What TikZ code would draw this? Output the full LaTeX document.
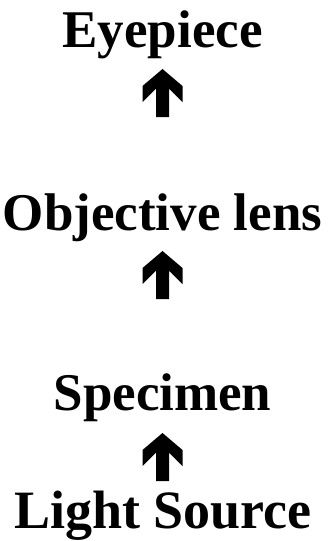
\documentclass[tikz,border=0pt]{standalone}
\usepackage{fontspec}
\setmainfont{Liberation Serif}
\begin{document}
\begin{tikzpicture}[x=1pt,y=-1pt,
  label/.style={font=\fontsize{53}{60}\selectfont\bfseries, inner sep=0pt, anchor=base},
  upar/.pic={\fill[black] (0,0) -- (-20,17) -- (-20,33) -- (-6.5,19.5) -- (-6.5,48) -- (6.5,48) -- (6.5,19.5) -- (20,33) -- (20,17) -- cycle;}]
\useasboundingbox (0,0) rectangle (327,541);
\node[label] (eye) at (162.5,47) {Eyepiece};
\node[label] (obj) at (162.5,230) {Objective lens};
\node[label] (spec) at (162.5,410) {Specimen};
\node[label, font=\fontsize{54}{60}\selectfont\bfseries] (light) at (163,528) {Light Source};
\coordinate (a1) at (162.5,69);
\coordinate (a2) at (162.5,251);
\coordinate (a3) at (162.5,433);
\pic at (a1) {upar};
\pic at (a2) {upar};
\pic at (a3) {upar};
\end{tikzpicture}
\end{document}
